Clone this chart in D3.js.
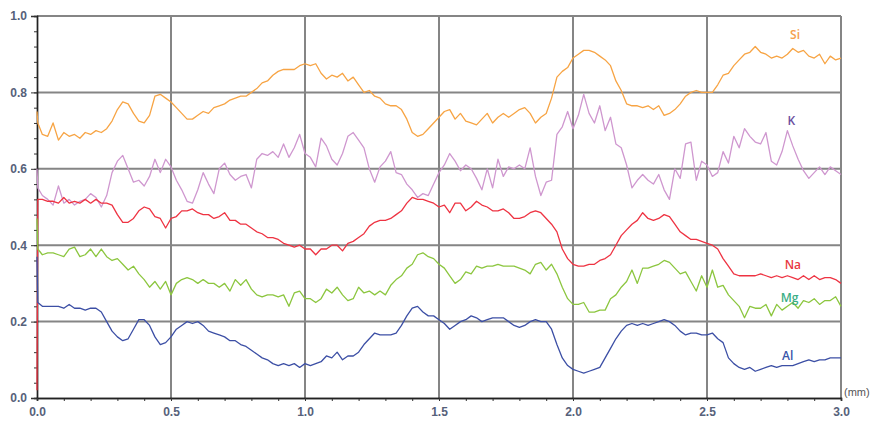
<!DOCTYPE html>
<html>
<head>
<meta charset="utf-8">
<script src="https://cdn.jsdelivr.net/npm/d3@7"></script>
<style>
  body { margin: 0; background: #fff; }
  svg { display: block; }
</style>
</head>
<body>
<script>
///////////////////   Parameters   /////////////////

var width = 872,
    height = 421,
    plotLeft = 37,
    plotRight = 841,
    plotTop = 16,
    plotBottom = 398;

var colors = {
  "Si": "#F7A444",
  "K": "#CF97CF",
  "Na": "#EE3342",
  "Mg": "#8CC63F",
  "Al": "#3C4FA5",
  "grid": "#858585",
  "tick": "#56617A"
};

// label colours differ slightly from the line colours
var labelColors = {
  "Si": "#F5A04E",
  "K": "#6B4E9E",
  "Na": "#E8383F",
  "Mg": "#3BAE86",
  "Al": "#3A55A8"
};

////////////////   Data   //////////////

var elements = ["Si", "K", "Na", "Mg", "Al"];

// sampling positions (mm): the trace origin, then every 0.02 mm
var distance = [0, 0.003].concat(d3.range(1, 151).map(function(i) { return +(i * 0.02).toFixed(2); }));

var yTicks = [0, 0.2, 0.4, 0.6, 0.8, 1.0];
var xTicks = [0, 0.5, 1.0, 1.5, 2.0, 2.5, 3.0];

var si = [0.75, 0.72,
  0.69, 0.685, 0.72, 0.675, 0.695, 0.685, 0.69, 0.68, 0.695, 0.69, 0.70, 0.695, 0.705, 0.725, 0.755, 0.775, 0.77, 0.745, 0.725, 0.72, 0.74, 0.79, 0.795, 0.785, 0.775,
  0.76, 0.745, 0.73, 0.73, 0.74, 0.75, 0.745, 0.76, 0.765, 0.77, 0.78, 0.785, 0.79, 0.79, 0.80, 0.81, 0.825, 0.83, 0.845, 0.855, 0.86, 0.86, 0.86, 0.87, 0.875,
  0.87, 0.875, 0.85, 0.835, 0.845, 0.84, 0.85, 0.83, 0.84, 0.82, 0.80, 0.805, 0.79, 0.785, 0.77, 0.765, 0.765, 0.755, 0.73, 0.695, 0.685, 0.69, 0.705, 0.72, 0.735,
  0.75, 0.755, 0.73, 0.745, 0.725, 0.72, 0.715, 0.73, 0.745, 0.72, 0.735, 0.745, 0.735, 0.745, 0.755, 0.76, 0.745, 0.72, 0.735, 0.745, 0.785, 0.84, 0.855, 0.865, 0.89,
  0.90, 0.91, 0.91, 0.905, 0.895, 0.885, 0.87, 0.83, 0.805, 0.77, 0.765, 0.765, 0.76, 0.765, 0.755, 0.765, 0.74, 0.745, 0.755, 0.77, 0.79, 0.80, 0.805, 0.80, 0.80,
  0.80, 0.82, 0.845, 0.85, 0.87, 0.885, 0.90, 0.905, 0.92, 0.905, 0.90, 0.89, 0.895, 0.89, 0.90, 0.915, 0.905, 0.91, 0.895, 0.89, 0.90, 0.875, 0.895, 0.885, 0.89];

var k = [0.60, 0.55,
  0.53, 0.52, 0.505, 0.555, 0.51, 0.52, 0.505, 0.515, 0.52, 0.535, 0.525, 0.50, 0.53, 0.59, 0.62, 0.635, 0.60, 0.565, 0.57, 0.555, 0.58, 0.625, 0.59, 0.625, 0.605,
  0.57, 0.545, 0.515, 0.51, 0.545, 0.59, 0.56, 0.535, 0.60, 0.615, 0.585, 0.57, 0.58, 0.585, 0.55, 0.625, 0.64, 0.635, 0.645, 0.63, 0.665, 0.63, 0.655, 0.69, 0.64,
  0.63, 0.605, 0.68, 0.66, 0.625, 0.61, 0.64, 0.685, 0.695, 0.675, 0.655, 0.60, 0.565, 0.605, 0.62, 0.645, 0.59, 0.585, 0.56, 0.545, 0.525, 0.535, 0.53, 0.56, 0.59,
  0.61, 0.64, 0.62, 0.595, 0.61, 0.60, 0.575, 0.545, 0.60, 0.55, 0.625, 0.58, 0.605, 0.60, 0.61, 0.60, 0.655, 0.58, 0.53, 0.565, 0.57, 0.69, 0.71, 0.75, 0.705,
  0.74, 0.795, 0.745, 0.72, 0.765, 0.70, 0.735, 0.665, 0.655, 0.61, 0.55, 0.57, 0.585, 0.57, 0.56, 0.585, 0.545, 0.52, 0.60, 0.575, 0.665, 0.67, 0.57, 0.62, 0.61,
  0.58, 0.59, 0.645, 0.615, 0.685, 0.655, 0.705, 0.685, 0.67, 0.665, 0.695, 0.62, 0.61, 0.645, 0.70, 0.66, 0.625, 0.595, 0.575, 0.59, 0.605, 0.585, 0.605, 0.595, 0.585];

var na = [0.02, 0.52,
  0.52, 0.515, 0.515, 0.51, 0.525, 0.51, 0.515, 0.51, 0.52, 0.51, 0.52, 0.51, 0.51, 0.505, 0.48, 0.46, 0.46, 0.47, 0.49, 0.50, 0.495, 0.475, 0.47, 0.445, 0.47,
  0.475, 0.49, 0.49, 0.495, 0.485, 0.48, 0.48, 0.47, 0.475, 0.485, 0.465, 0.465, 0.455, 0.455, 0.445, 0.435, 0.43, 0.42, 0.42, 0.415, 0.405, 0.40, 0.395, 0.40, 0.39,
  0.39, 0.375, 0.39, 0.39, 0.40, 0.40, 0.385, 0.405, 0.41, 0.42, 0.43, 0.45, 0.46, 0.465, 0.465, 0.47, 0.48, 0.49, 0.51, 0.525, 0.52, 0.52, 0.515, 0.51, 0.50,
  0.505, 0.485, 0.51, 0.51, 0.49, 0.50, 0.515, 0.505, 0.50, 0.49, 0.49, 0.495, 0.485, 0.47, 0.47, 0.475, 0.485, 0.49, 0.485, 0.47, 0.455, 0.435, 0.39, 0.365, 0.35,
  0.345, 0.345, 0.35, 0.35, 0.36, 0.365, 0.375, 0.40, 0.425, 0.44, 0.455, 0.465, 0.485, 0.47, 0.465, 0.47, 0.48, 0.475, 0.455, 0.435, 0.425, 0.415, 0.415, 0.41, 0.405,
  0.40, 0.39, 0.365, 0.345, 0.325, 0.32, 0.32, 0.32, 0.32, 0.325, 0.32, 0.315, 0.32, 0.315, 0.32, 0.315, 0.31, 0.32, 0.31, 0.32, 0.31, 0.315, 0.315, 0.31, 0.30];

var mg = [0.47, 0.39,
  0.375, 0.38, 0.38, 0.375, 0.37, 0.39, 0.395, 0.37, 0.375, 0.39, 0.37, 0.39, 0.37, 0.36, 0.365, 0.35, 0.335, 0.345, 0.325, 0.31, 0.29, 0.305, 0.285, 0.305, 0.27,
  0.30, 0.31, 0.315, 0.31, 0.30, 0.31, 0.30, 0.30, 0.29, 0.30, 0.28, 0.31, 0.295, 0.31, 0.285, 0.27, 0.265, 0.27, 0.27, 0.265, 0.27, 0.24, 0.275, 0.28, 0.26,
  0.26, 0.25, 0.26, 0.285, 0.275, 0.29, 0.27, 0.255, 0.26, 0.29, 0.275, 0.28, 0.27, 0.28, 0.27, 0.295, 0.31, 0.32, 0.34, 0.35, 0.375, 0.38, 0.37, 0.365, 0.35,
  0.34, 0.32, 0.30, 0.31, 0.33, 0.325, 0.345, 0.34, 0.345, 0.345, 0.35, 0.345, 0.345, 0.345, 0.34, 0.335, 0.325, 0.35, 0.355, 0.335, 0.35, 0.325, 0.29, 0.26, 0.245,
  0.245, 0.25, 0.225, 0.225, 0.23, 0.23, 0.26, 0.27, 0.29, 0.305, 0.335, 0.30, 0.34, 0.34, 0.345, 0.35, 0.36, 0.355, 0.34, 0.325, 0.33, 0.305, 0.28, 0.32, 0.29,
  0.335, 0.29, 0.295, 0.27, 0.255, 0.24, 0.21, 0.24, 0.235, 0.235, 0.245, 0.215, 0.245, 0.23, 0.24, 0.25, 0.235, 0.255, 0.25, 0.26, 0.245, 0.255, 0.255, 0.265, 0.24];

var al = [0.37, 0.25,
  0.24, 0.24, 0.24, 0.24, 0.235, 0.245, 0.235, 0.235, 0.23, 0.235, 0.235, 0.225, 0.20, 0.175, 0.16, 0.15, 0.155, 0.18, 0.205, 0.205, 0.19, 0.16, 0.14, 0.145, 0.16,
  0.18, 0.19, 0.20, 0.195, 0.20, 0.19, 0.175, 0.17, 0.165, 0.16, 0.15, 0.15, 0.14, 0.135, 0.125, 0.115, 0.105, 0.10, 0.09, 0.085, 0.09, 0.085, 0.09, 0.08, 0.09,
  0.085, 0.09, 0.095, 0.11, 0.105, 0.12, 0.10, 0.11, 0.11, 0.12, 0.14, 0.155, 0.17, 0.165, 0.165, 0.165, 0.17, 0.19, 0.215, 0.235, 0.24, 0.225, 0.215, 0.215, 0.205,
  0.195, 0.18, 0.19, 0.20, 0.205, 0.215, 0.21, 0.20, 0.205, 0.21, 0.21, 0.21, 0.20, 0.19, 0.185, 0.19, 0.20, 0.205, 0.20, 0.20, 0.18, 0.14, 0.105, 0.085, 0.075,
  0.07, 0.065, 0.07, 0.075, 0.08, 0.105, 0.13, 0.155, 0.175, 0.19, 0.195, 0.19, 0.195, 0.19, 0.195, 0.20, 0.205, 0.20, 0.19, 0.175, 0.165, 0.17, 0.17, 0.165, 0.165,
  0.17, 0.155, 0.145, 0.105, 0.09, 0.08, 0.075, 0.08, 0.07, 0.075, 0.08, 0.085, 0.08, 0.085, 0.085, 0.085, 0.09, 0.095, 0.10, 0.095, 0.10, 0.10, 0.105, 0.105, 0.105];

// label anchor for each trace (x in mm, y in fraction)
var labelPos = {
  "Si": [2.81, 0.94],
  "K": [2.80, 0.715],
  "Na": [2.79, 0.338],
  "Mg": [2.775, 0.251],
  "Al": [2.78, 0.10]
};

var traces = { "Si": si, "K": k, "Na": na, "Mg": mg, "Al": al };


////////////////   Main rendering   //////////////

var svg = d3.select("body").append("svg")
    .attr("width", width)
    .attr("height", height);

var x = d3.scaleLinear().domain([0, 3]).range([plotLeft, plotRight]);
var y = d3.scaleLinear().domain([0, 1]).range([plotBottom, plotTop]);

// grid (also makes the top and right frame)
svg.append("g").selectAll("line")
    .data(yTicks.slice(1))
  .enter().append("line")
    .attr("x1", plotLeft).attr("x2", plotRight)
    .attr("y1", function(d) { return y(d); })
    .attr("y2", function(d) { return y(d); })
    .attr("stroke", colors.grid)
    .attr("stroke-width", 2);

svg.append("g").selectAll("line")
    .data(xTicks.slice(1))
  .enter().append("line")
    .attr("x1", function(d) { return x(d); })
    .attr("x2", function(d) { return x(d); })
    .attr("y1", plotTop).attr("y2", plotBottom)
    .attr("stroke", colors.grid)
    .attr("stroke-width", 2);

// minor ticks
var yMinor = svg.append("g")
    .attr("transform", "translate(" + plotLeft + ",0)")
    .call(d3.axisLeft(y).tickValues(d3.range(0, 1.001, 0.04)).tickSize(3).tickFormat(""));
var xMinor = svg.append("g")
    .attr("transform", "translate(0," + plotBottom + ")")
    .call(d3.axisBottom(x).tickValues(d3.range(0, 3.001, 0.1)).tickSize(3).tickFormat(""));

// major ticks with labels
var yAxis = svg.append("g")
    .attr("transform", "translate(" + plotLeft + ",0)")
    .call(d3.axisLeft(y).tickValues(yTicks).tickSize(6).tickPadding(4).tickFormat(d3.format(".1f")));
var xAxis = svg.append("g")
    .attr("transform", "translate(0," + plotBottom + ")")
    .call(d3.axisBottom(x).tickValues(xTicks).tickSize(3).tickPadding(6).tickFormat(d3.format(".1f")));

[yMinor, xMinor, yAxis, xAxis].forEach(function(g) {
  g.selectAll(".domain").attr("stroke", "#222").attr("stroke-width", 1.4);
  g.selectAll(".tick line").attr("stroke", "#333");
  g.selectAll(".tick text")
    .attr("fill", colors.tick)
    .style("font-family", "'Liberation Sans', Arial, sans-serif")
    .style("font-size", "12px")
    .style("font-weight", "bold");
});

svg.append("text")
    .attr("x", 844)
    .attr("y", 396)
    .attr("fill", "#555")
    .style("font-family", "'Liberation Sans', Arial, sans-serif")
    .style("font-size", "11px")
    .text("(mm)");

// traces
var line = d3.line()
    .x(function(d) { return x(d[0]); })
    .y(function(d) { return y(d[1]); });

elements.forEach(function(el) {
  var values = traces[el];
  if (values.length !== distance.length) console.warn(el, values.length, distance.length);
  svg.append("path")
    .datum(d3.zip(distance, values))
    .attr("fill", "none")
    .attr("stroke", colors[el])
    .attr("stroke-width", 1.3)
    .attr("stroke-linejoin", "round")
    .attr("d", line);
});

// trace labels
svg.append("g").selectAll("text")
    .data(elements)
  .enter().append("text")
    .attr("x", function(d) { return x(labelPos[d][0]); })
    .attr("y", function(d) { return y(labelPos[d][1]); })
    .attr("fill", function(d) { return labelColors[d]; })
    .style("font-family", "'Open Sans', sans-serif")
    .style("font-size", "12px")
    .style("font-weight", "600")
    .text(function(d) { return d; });
</script>
</body>
</html>
